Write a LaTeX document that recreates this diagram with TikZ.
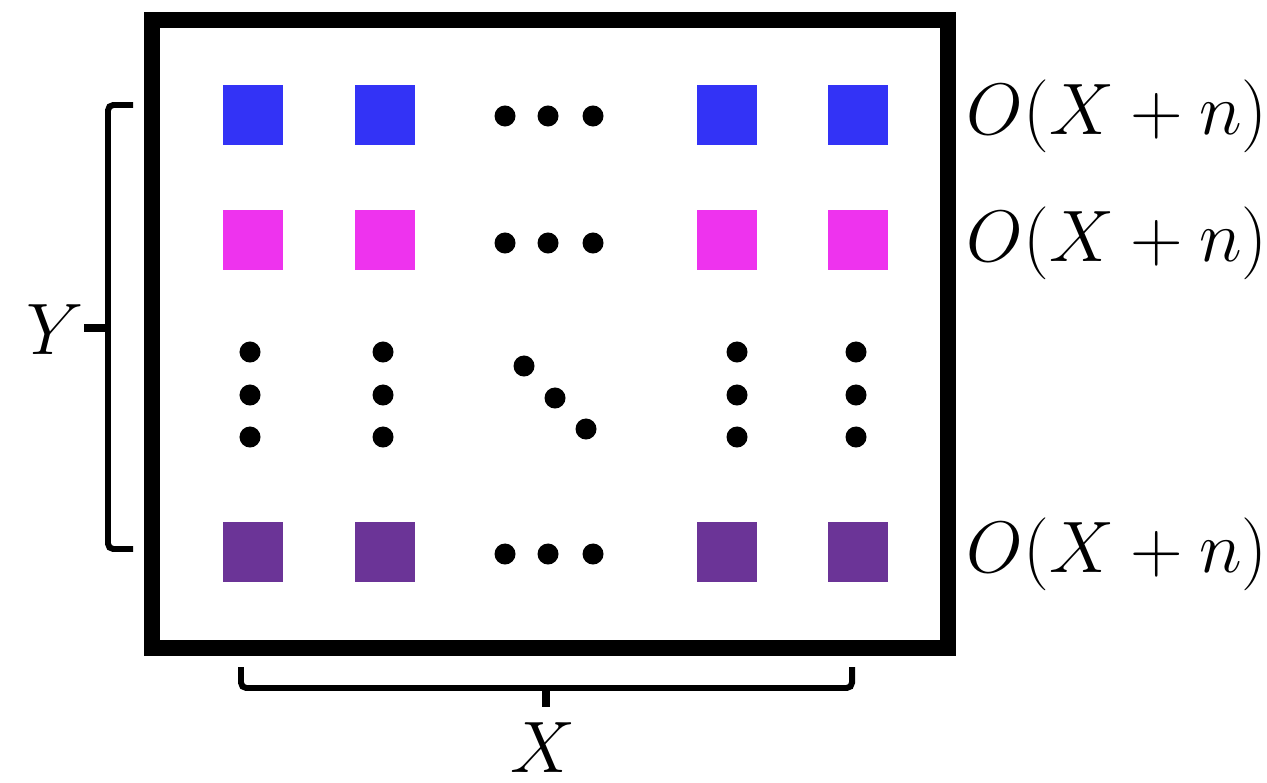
\documentclass[tikz,border=0pt]{standalone}
\usepackage{amsmath}
\begin{document}
\begin{tikzpicture}[x=0.01cm, y=-0.01cm]
	\definecolor{rowblue}{HTML}{3333F6}
	\definecolor{rowpink}{HTML}{EE33EE}
	\definecolor{rowpurple}{HTML}{6B3497}
	\tikzset{cell/.style={minimum size=0.6cm, inner sep=0pt, draw=none}}
	\tikzset{dot/.style={circle, fill=black, inner sep=0pt, minimum size=0.21cm}}
	\tikzset{brace/.style={draw, line width=1.7pt, rounded corners=1.5pt}}
	\tikzset{cost/.style={anchor=west, inner sep=0pt, font=\fontsize{22}{26}\selectfont}}
	\tikzset{dim/.style={inner sep=0pt, font=\fontsize{20}{24}\selectfont}}

	\useasboundingbox (0,0) rectangle (1267,782);

	% outer frame
	\node[draw, line width=4.55pt, minimum width=7.96cm, minimum height=6.28cm, inner sep=0pt] (frame) at (550,334) {};

	% first row
	\node[cell, fill=rowblue] (a1) at (253,115) {};
	\node[cell, fill=rowblue] (a2) at (385,115) {};
	\node[cell, fill=rowblue] (a3) at (727,115) {};
	\node[cell, fill=rowblue] (a4) at (858,115) {};

	% second row
	\node[cell, fill=rowpink] (b1) at (253,240) {};
	\node[cell, fill=rowpink] (b2) at (385,240) {};
	\node[cell, fill=rowpink] (b3) at (727,240) {};
	\node[cell, fill=rowpink] (b4) at (858,240) {};

	% last row
	\node[cell, fill=rowpurple] (c1) at (253,552) {};
	\node[cell, fill=rowpurple] (c2) at (385,552) {};
	\node[cell, fill=rowpurple] (c3) at (727,552) {};
	\node[cell, fill=rowpurple] (c4) at (858,552) {};

	% dots along the rows
	\foreach \r/\y in {a/116, b/243, c/554} {
		\node[dot] (\r d1) at (505,\y) {};
		\node[dot] (\r d2) at (548,\y) {};
		\node[dot] (\r d3) at (593,\y) {};
	}

	% dots down the columns
	\foreach \k/\x in {1/250, 2/383, 3/737, 4/856} {
		\node[dot] (v\k a) at (\x,352) {};
		\node[dot] (v\k b) at (\x,395) {};
		\node[dot] (v\k c) at (\x,437) {};
	}

	% diagonal dots
	\node[dot] (g1) at (524,366) {};
	\node[dot] (g2) at (555,398) {};
	\node[dot] (g3) at (586,429) {};

	% row costs
	\node[cost] (oa) at (966,116) {$O(X+n)$};
	\node[cost] (ob) at (966,243) {$O(X+n)$};
	\node[cost] (oc) at (966,554) {$O(X+n)$};

	% left brace
	\coordinate (ytop) at (133,105);
	\coordinate (ybot) at (133,549);
	\coordinate (ytip) at (108,328);
	\coordinate (yend) at (84,328);
	\node[dim] (ylab) at (55,330) {$Y$};
	\draw[brace] (ytop) -- (108,105) -- (108,549) -- (ybot);
	\draw[line width=2pt] (ytip) -- (yend);

	% bottom brace
	\coordinate (xleft) at (241,667);
	\coordinate (xright) at (852,667);
	\coordinate (xtip) at (546,688);
	\coordinate (xend) at (546,707);
	\node[dim] (xlab) at (543,748) {$X$};
	\draw[brace] (xleft) -- (241,688) -- (852,688) -- (xright);
	\draw[line width=2pt] (xtip) -- (xend);
\end{tikzpicture}
\end{document}
